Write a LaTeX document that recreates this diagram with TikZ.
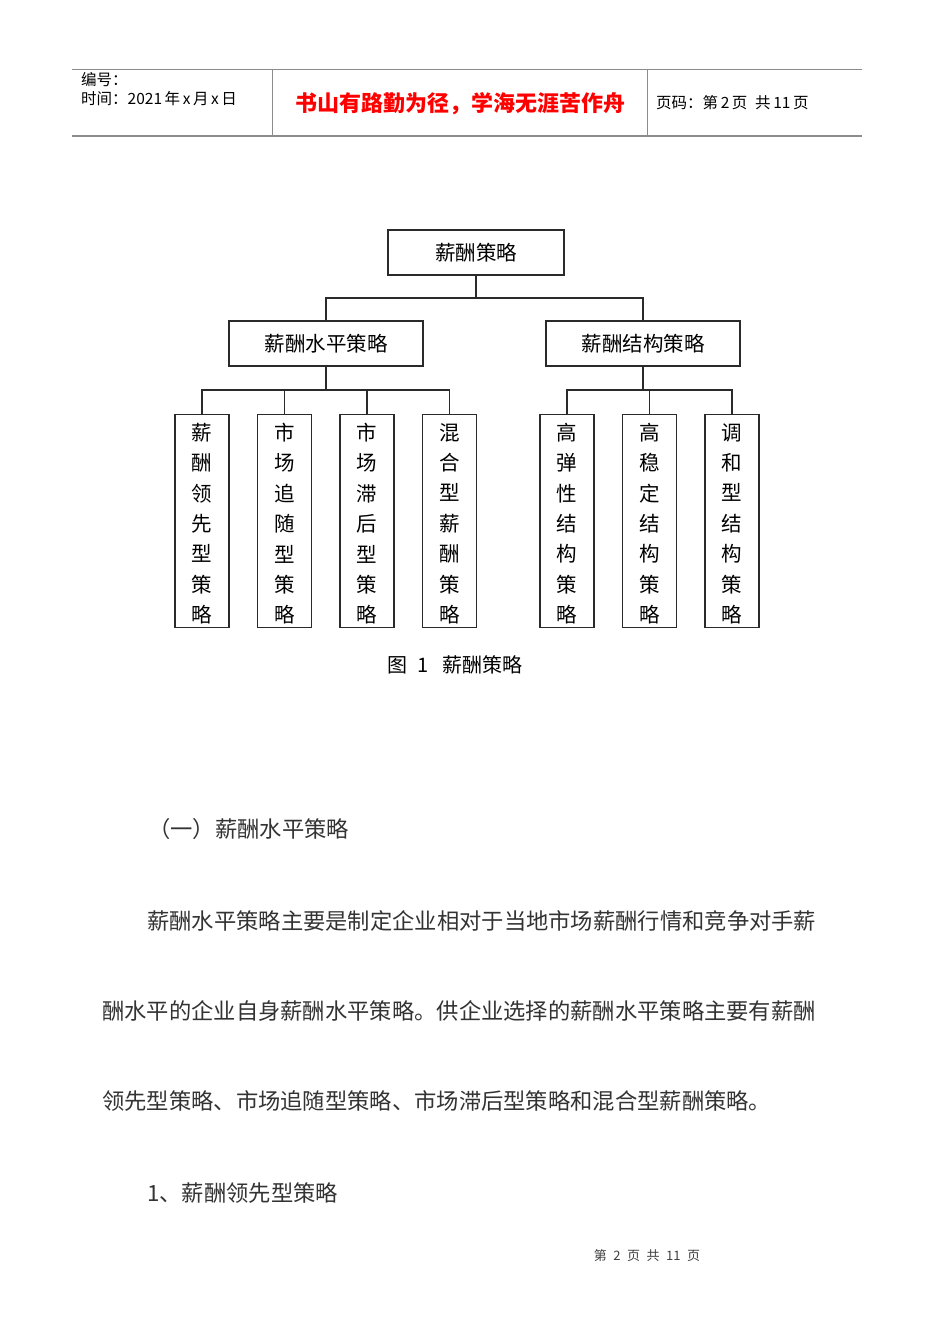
\documentclass[tikz,border=0pt]{standalone}
\usepackage{fontspec}
\setmainfont{Noto Sans CJK SC}
\usetikzlibrary{positioning}
\definecolor{rulegray}{HTML}{8C8C8C}
\definecolor{inkgray}{HTML}{2A2A2A}
\providecommand{\Leaf}[3]{
\node[leaf] (#1) at (#2,414) {};
\node[leaftext] (#1text) at ([yshift=-2.5pt]#1.center) {#3};
}
\providecommand{\Line}[3]{
\node[bodytext] (#1) at (#2) {#3};
}
\tikzset{
  box/.style={draw=inkgray,line width=1.4pt,minimum height=45pt,inner sep=0pt,
    font=\fontsize{20.5}{24}\selectfont},
  leaf/.style={draw=inkgray,line width=1.4pt,anchor=north,minimum width=54pt,
    minimum height=213pt,inner sep=0pt},
  leaftext/.style={inner sep=0pt,text width=22pt,align=center,
    font=\fontsize{20.5}{30.4}\selectfont},
  link/.style={draw=inkgray,line width=1.4pt},
  headtext/.style={anchor=west,inner sep=0pt,font=\fontsize{15.5}{17}\selectfont},
  bodytext/.style={anchor=west,inner sep=0pt,text=black!80,font=\fontsize{22.3}{24}\selectfont}
}

\begin{document}
\begin{tikzpicture}[x=1pt,y=-1pt]
\useasboundingbox[fill=white] (0,0) rectangle (950,1344);

% page header
\draw[rulegray,line width=0.8pt] (72,69) -- (862,69);
\draw[rulegray,line width=2pt] (72,136) -- (862,136);
\draw[rulegray,line width=0.8pt] (272,69) -- (272,136);
\draw[rulegray,line width=0.8pt] (647,69) -- (647,136);
\node[headtext] (code) at (81,80) {编号：};
\node[headtext] (date) at (81,99) {时间：2021\,年\,x\,月\,x\,日};
\node[inner sep=0pt,text=red,font=\fontsize{22}{24}\selectfont\bfseries] (motto) at (460,104) {书山有路勤为径，学海无涯苦作舟};
\node[headtext] (pageno) at (656,103) {页码：第\,2\,页\enspace 共\,11\,页};

% chart
\node[box,minimum width=176pt] (pay) at (476,252.5) {薪酬策略};
\node[box,minimum width=194pt] (level) at (326,343.5) {薪酬水平策略};
\node[box,minimum width=194pt] (struct) at (643,343.5) {薪酬结构策略};
\coordinate (paybus) at (476,298);
\draw[link] (pay) -- (paybus);
\draw[link] (level.north) |- (paybus) -| (struct.north);

\Leaf{lead}{202}{薪\\酬\\领\\先\\型\\策\\略}
\Leaf{follow}{284.5}{市\\场\\追\\随\\型\\策\\略}
\Leaf{lag}{367}{市\\场\\滞\\后\\型\\策\\略}
\Leaf{mixed}{449.5}{混\\合\\型\\薪\\酬\\策\\略}
\Leaf{elastic}{567}{高\\弹\\性\\结\\构\\策\\略}
\Leaf{stable}{649.5}{高\\稳\\定\\结\\构\\策\\略}
\Leaf{blend}{732}{调\\和\\型\\结\\构\\策\\略}

\coordinate (levelbus) at (326,390);
\coordinate (structbus) at (643,390);
\draw[link] (level) -- (levelbus);
\draw[link] (lead.north) |- (levelbus) -| (mixed.north);
\draw[link] (follow.north) |- (levelbus);
\draw[link] (lag.north) |- (levelbus);
\draw[link] (struct) -- (structbus);
\draw[link] (elastic.north) |- (structbus) -| (blend.north);
\draw[link] (stable.north) |- (structbus);

\node[inner sep=0pt,font=\fontsize{20}{24}\selectfont] (caption) at (455,665) {图\enspace 1\enspace\ 薪酬策略};

% body text
\Line{sec}{148,829}{（一）薪酬水平策略}
\Line{para1}{147,921}{薪酬水平策略主要是制定企业相对于当地市场薪酬行情和竞争对手薪}
\Line{para2}{102,1011}{酬水平的企业自身薪酬水平策略。供企业选择的薪酬水平策略主要有薪酬}
\Line{para3}{102,1101}{领先型策略、市场追随型策略、市场滞后型策略和混合型薪酬策略。}
\Line{item}{147,1193}{1、薪酬领先型策略}

% page footer
\node[inner sep=0pt,text=black!75,font=\fontsize{13}{15}\selectfont] (footer) at (647,1256) {第\enspace 2\enspace 页\enspace 共\enspace 11\enspace 页};
\end{tikzpicture}
\end{document}
